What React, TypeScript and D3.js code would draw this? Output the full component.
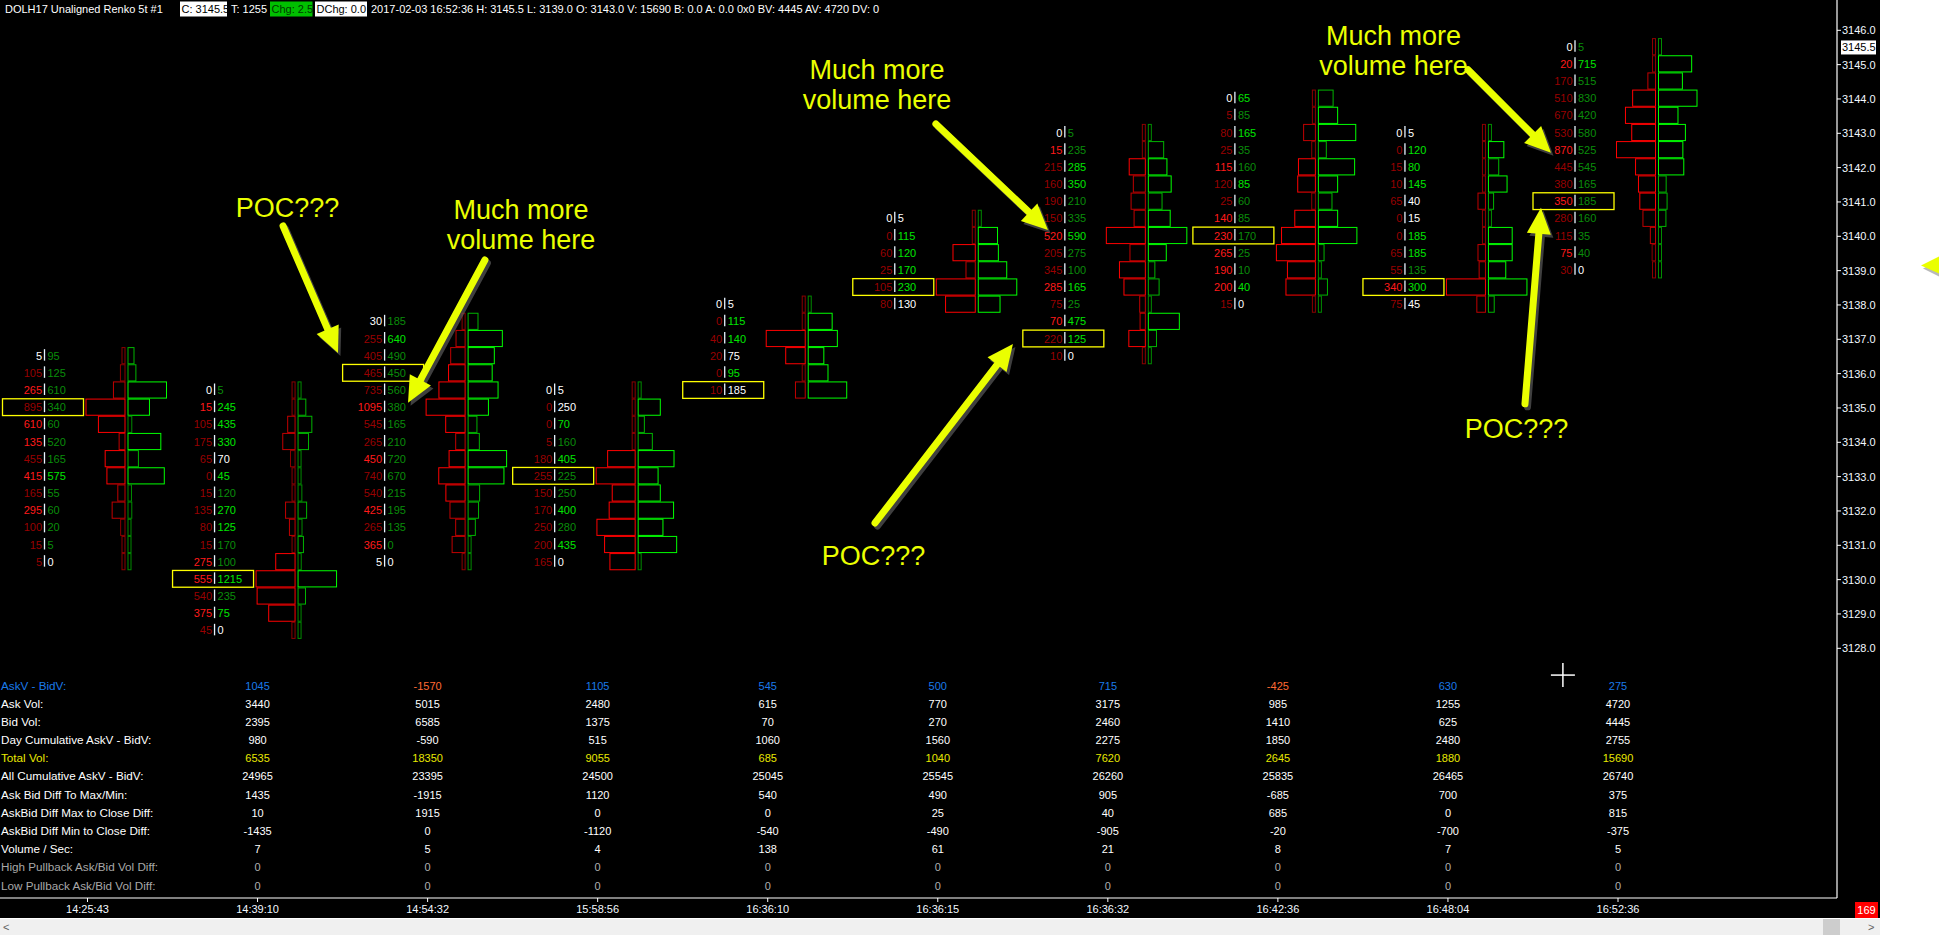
import React, { useEffect } from "react";
import * as d3 from "d3";

// ---------- DATA ----------
const timeLabels = ["14:25:43", "14:39:10", "14:54:32", "15:58:56", "16:36:10", "16:36:15", "16:36:32", "16:42:36", "16:48:04", "16:52:36"];

const barTopPrices = [3136.5, 3135.5, 3137.5, 3135.5, 3138.0, 3140.5, 3143.0, 3144.0, 3143.0, 3145.5];

const bidVolumes = [
  [5, 105, 265, 895, 610, 135, 455, 415, 165, 295, 100, 15, 5],
  [0, 15, 105, 175, 65, 0, 15, 135, 80, 15, 275, 555, 540, 375, 45],
  [30, 255, 405, 465, 735, 1095, 545, 265, 450, 740, 540, 425, 265, 365, 5],
  [0, 0, 0, 5, 180, 255, 150, 170, 250, 200, 165],
  [0, 0, 40, 20, 0, 10],
  [0, 0, 60, 25, 105, 80],
  [0, 15, 215, 160, 190, 150, 520, 205, 345, 285, 75, 70, 220, 10],
  [0, 5, 80, 25, 115, 120, 25, 140, 230, 265, 190, 200, 15],
  [0, 0, 15, 10, 65, 0, 0, 65, 55, 340, 75],
  [0, 20, 170, 510, 670, 530, 870, 445, 380, 350, 280, 115, 75, 30],
];

const askVolumes = [
  [95, 125, 610, 340, 60, 520, 165, 575, 55, 60, 20, 5, 0],
  [5, 245, 435, 330, 70, 45, 120, 270, 125, 170, 100, 1215, 235, 75, 0],
  [185, 640, 490, 450, 560, 380, 165, 210, 720, 670, 215, 195, 135, 0, 0],
  [5, 250, 70, 160, 405, 225, 250, 400, 280, 435, 0],
  [5, 115, 140, 75, 95, 185],
  [5, 115, 120, 170, 230, 130],
  [5, 235, 285, 350, 210, 335, 590, 275, 100, 165, 25, 475, 125, 0],
  [65, 85, 165, 35, 160, 85, 60, 85, 170, 25, 10, 40, 0],
  [5, 120, 80, 145, 40, 15, 185, 185, 135, 300, 45],
  [5, 715, 515, 830, 420, 580, 525, 545, 165, 185, 160, 35, 40, 0],
];

const bidTones = [
  "WrRrRRrRrRrrr",
  "WRrrrrrrrrRRrRr",
  "WrrrrRrrRrrRrRW",
  "Wrrrrrrrrrr",
  "Wrrrrr",
  "Wrrrrr",
  "WRrrrrRrrRrRrr",
  "WrrrRrrRRRRRr",
  "WrrrrrrrrRr",
  "WRrrrrRrrRrrRr",
];

const askTones = [
  "gggggggGggggW",
  "gGGGWGgGGggGgGW",
  "gGggggggggggggW",
  "WWGgGggGgGW",
  "WGGWGW",
  "WGGGGW",
  "ggGGggGggGgGGW",
  "GgGggGgggggGW",
  "WGGGWWGGgGW",
  "gGgggggggggggW",
];

const pocRows = [3, 11, 3, 5, 5, 4, 12, 8, 9, 9];

const priceTicks = d3.range(3128, 3147, 1);
const lastPrice = 3145.5;

const tableRowLabels = [
  "AskV - BidV:",
  "Ask Vol:",
  "Bid Vol:",
  "Day Cumulative AskV - BidV:",
  "Total Vol:",
  "All Cumulative AskV - BidV:",
  "Ask Bid Diff To Max/Min:",
  "AskBid Diff Max to Close Diff:",
  "AskBid Diff Min to Close Diff:",
  "Volume / Sec:",
  "High Pullback Ask/Bid Vol Diff:",
  "Low Pullback Ask/Bid Vol Diff:",
];
const askMinusBidV = [1045, -1570, 1105, 545, 500, 715, -425, 630, 275];
const askVolRow = [3440, 5015, 2480, 615, 770, 3175, 985, 1255, 4720];
const bidVolRow = [2395, 6585, 1375, 70, 270, 2460, 1410, 625, 4445];
const dayCumRow = [980, -590, 515, 1060, 1560, 2275, 1850, 2480, 2755];
const totalVolRow = [6535, 18350, 9055, 685, 1040, 7620, 2645, 1880, 15690];
const allCumRow = [24965, 23395, 24500, 25045, 25545, 26260, 25835, 26465, 26740];
const diffMaxMinRow = [1435, -1915, 1120, 540, 490, 905, -685, 700, 375];
const maxToCloseRow = [10, 1915, 0, 0, 25, 40, 685, 0, 815];
const minToCloseRow = [-1435, 0, -1120, -540, -490, -905, -20, -700, -375];
const volPerSecRow = [7, 5, 4, 138, 61, 21, 8, 7, 5];
const highPullbackRow = [0, 0, 0, 0, 0, 0, 0, 0, 0];
const lowPullbackRow = [0, 0, 0, 0, 0, 0, 0, 0, 0];

// annotations, anchored in data space (bar index, price)
const noteTexts = [
  { lines: ["POC???"], at: [1.176, 3140.83] },
  { lines: ["Much more", "volume here"], at: [2.549, 3140.77] },
  { lines: ["Much more", "volume here"], at: [4.643, 3144.87] },
  { lines: ["Much more", "volume here"], at: [7.68, 3145.86] },
  { lines: ["POC???"], at: [4.622, 3130.69] },
  { lines: ["POC???"], at: [8.403, 3134.39] },
];
const noteArrows = [
  { from: [1.15, 3140.3], to: [1.473, 3136.6] },
  { from: [2.337, 3139.31], to: [1.885, 3135.15] },
  { from: [4.989, 3143.27], to: [5.648, 3140.18] },
  { from: [4.631, 3131.65], to: [5.442, 3136.86] },
  { from: [8.118, 3144.85], to: [8.606, 3142.43] },
  { from: [8.453, 3135.12], to: [8.547, 3140.83] },
];

// ---------- STYLE ----------
const FONT = "'Liberation Sans', Arial, sans-serif";
const YEL = "#eaff00";
const toneColor: Record<string, string> = {
  W: "#ffffff",
  R: "#ff1a1a",
  r: "#990000",
  G: "#00e400",
  g: "#0a8c0a",
};

function Arrow({ x1, y1, x2, y2 }: { x1: number; y1: number; x2: number; y2: number }) {
  const dx = x2 - x1, dy = y2 - y1;
  const len = Math.hypot(dx, dy);
  const ux = dx / len, uy = dy / len;
  const headLen = 26, headW = 12;
  const bx = x2 - ux * headLen, by = y2 - uy * headLen;
  const px = -uy, py = ux;
  const head = `${x2},${y2} ${bx + px * headW},${by + py * headW} ${bx - px * headW},${by - py * headW}`;
  const shaft = (
    <line x1={x1} y1={y1} x2={bx + ux * 3} y2={by + uy * 3} strokeWidth={7} strokeLinecap="round" />
  );
  return (
    <g>
      <g transform="translate(2.5,3)" opacity={0.6}>
        <line x1={x1} y1={y1} x2={bx + ux * 3} y2={by + uy * 3} stroke="#6a6a6a" strokeWidth={7} strokeLinecap="round" />
        <polygon points={head} fill="#6a6a6a" />
      </g>
      <line x1={x1} y1={y1} x2={bx + ux * 3} y2={by + uy * 3} stroke={YEL} strokeWidth={7} strokeLinecap="round" />
      <polygon points={head} fill={YEL} />
    </g>
  );
}

export default function App() {
  useEffect(() => {
    document.body.style.margin = "0";
    document.body.style.overflow = "hidden";
  }, []);

  const W = 1939, H = 935;
  const plotRight = 1880;
  const axisX = 1837;
  const bottomLine = 898;

  const x = d3.scaleLinear().domain([0, 9]).range([87.5, 1618]);
  const y = d3.scaleLinear().domain([3128, 3146]).range([648.3, 30.3]);
  const tableY = d3.scaleLinear().domain([0, 11]).range([685.5, 885.5]);
  const rowStep = Math.abs(y(0.5) - y(0));

  const tableRows = [
    askMinusBidV, askVolRow, bidVolRow, dayCumRow, totalVolRow, allCumRow,
    diffMaxMinRow, maxToCloseRow, minToCloseRow, volPerSecRow, highPullbackRow, lowPullbackRow,
  ];
  const labelColor = (r: number) =>
    r === 0 ? "#1a7ae8" : r === 4 ? "#e8e800" : r >= 10 ? "#a8a8a8" : "#ffffff";
  const valueColor = (r: number, v: number) =>
    r === 0 ? (v >= 0 ? "#1a7ae8" : "#ff6a33") : r === 4 ? "#e8e800" : r >= 10 ? "#b0b0b0" : "#ffffff";

  const bars = bidVolumes.map((bids, i) => {
    const asks = askVolumes[i];
    const c = x(i);
    const maxB = d3.max(bids) || 1;
    const maxA = d3.max(asks) || 1;
    const mid = c + 39;
    return (
      <g key={"bar" + i}>
        {bids.map((b, j) => {
          const p = barTopPrices[i] - 0.5 * j;
          const yc = y(p) - 0.8;
          const a = asks[j];
          const wb = Math.max(3, (b / maxB) * 39);
          const wa = Math.max(3, (a / maxA) * 38.5);
          const rb = b / maxB, ra = a / maxA;
          const redCol = rb >= 0.4 ? "#ff0000" : rb >= 0.12 ? "#c00000" : "#8c0000";
          const greenCol = ra >= 0.4 ? "#00ff00" : ra >= 0.12 ? "#00b400" : "#008c00";
          const top = yc - rowStep / 2 + 0.5;
          const h = rowStep - 1;
          return (
            <g key={j}>
              <rect x={mid - 1.5 - wb} y={top} width={wb} height={h} fill="#000" stroke={redCol} strokeWidth={1} />
              <rect x={mid + 1.5} y={top} width={wa} height={h} fill="#000" stroke={greenCol} strokeWidth={1} />
              <text x={c - 45.5} y={yc + 4} textAnchor="end" fill={toneColor[bidTones[i][j]]} fontSize={11} fontFamily={FONT}>
                {b}
              </text>
              <line x1={c - 43} x2={c - 43} y1={yc - 6.5} y2={yc + 5} stroke="#e8f4ff" strokeWidth={1.3} />
              <text x={c - 40} y={yc + 4} textAnchor="start" fill={toneColor[askTones[i][j]]} fontSize={11} fontFamily={FONT}>
                {a}
              </text>
            </g>
          );
        })}
        {(() => {
          const yc = y(barTopPrices[i] - 0.5 * pocRows[i]) - 0.8;
          return (
            <rect x={c - 85} y={yc - rowStep / 2 + 0.2} width={81} height={rowStep - 0.4} fill="none" stroke="#ffff00" strokeWidth={1.3} />
          );
        })()}
      </g>
    );
  });

  return (
    <svg width={W} height={H} style={{ display: "block", position: "absolute", left: 0, top: 0 }}>
      <rect x={0} y={0} width={W} height={H} fill="#ffffff" />
      <rect x={0} y={0} width={plotRight} height={918} fill="#000000" />

      {/* header */}
      <g fontFamily={FONT} fontSize={11} style={{ whiteSpace: "pre" }}>
        <text x={5} y={12.5} fill="#fff">{"DOLH17  Unaligned Renko 5t  #1"}</text>
        <rect x={180} y={1.5} width={47} height={15} fill="#fff" />
        <text x={181.5} y={12.5} fill="#000">{"C: 3145.5"}</text>
        <text x={231} y={12.5} fill="#fff">{"T: 1255"}</text>
        <rect x={270} y={1.5} width={42.5} height={15} fill="#00c000" />
        <text x={271.5} y={12.5} fill="#003a00">{"Chg: 2.5"}</text>
        <rect x={315} y={1.5} width={52} height={15} fill="#fff" />
        <text x={316.5} y={12.5} fill="#000">{"DChg: 0.0"}</text>
        <text x={371} y={12.5} fill="#fff">
          {"2017-02-03 16:52:36 H: 3145.5 L: 3139.0 O: 3143.0 V: 15690 B: 0.0 A: 0.0 0x0 BV: 4445 AV: 4720 DV: 0"}
        </text>
      </g>

      {/* footprint bars */}
      {bars}

      {/* y axis */}
      <line x1={axisX} x2={axisX} y1={0} y2={bottomLine} stroke="#fff" strokeWidth={1.2} />
      {priceTicks.map((p) => (
        <g key={p}>
          <line x1={axisX} x2={axisX + 4} y1={y(p)} y2={y(p)} stroke="#fff" />
          <text x={1842} y={y(p) + 4} fill="#f2f8ff" fontSize={11} fontFamily={FONT}>
            {p.toFixed(1)}
          </text>
        </g>
      ))}
      <rect x={1841} y={y(lastPrice) - 7} width={35} height={14} fill="#fff" />
      <text x={1842} y={y(lastPrice) + 4} fill="#000" fontSize={11} fontFamily={FONT}>
        {lastPrice.toFixed(1)}
      </text>

      {/* table */}
      {tableRowLabels.map((lab, r) => (
        <text key={"lab" + r} x={1} y={tableY(r) + 4} fill={labelColor(r)} fontSize={11.7} fontFamily={FONT}>
          {lab}
        </text>
      ))}
      {tableRows.map((row, r) =>
        row.map((v, k) => (
          <text key={`tv${r}-${k}`} x={x(k + 1)} y={tableY(r) + 4} textAnchor="middle" fill={valueColor(r, v)} fontSize={11} fontFamily={FONT}>
            {v}
          </text>
        ))
      )}

      {/* bottom border + time axis */}
      <line x1={0} x2={axisX} y1={bottomLine} y2={bottomLine} stroke="#fff" strokeWidth={1.2} />
      {timeLabels.map((t, i) => (
        <g key={t + i}>
          <line x1={x(i)} x2={x(i)} y1={bottomLine} y2={bottomLine + 4} stroke="#fff" />
          <text x={x(i)} y={913} textAnchor="middle" fill="#f2f8ff" fontSize={11} fontFamily={FONT}>
            {t}
          </text>
        </g>
      ))}
      <rect x={1855} y={902} width={23} height={16} fill="#ff0000" />
      <text x={1866.5} y={914} textAnchor="middle" fill="#fff" fontSize={11} fontFamily={FONT}>169</text>

      {/* scrollbar */}
      <rect x={0} y={919} width={plotRight} height={16} fill="#f0f0f0" />
      <rect x={1823} y={919} width={17} height={16} fill="#cdcdcd" />
      <text x={3} y={931} fill="#606060" fontSize={11} fontFamily={FONT}>{"<"}</text>
      <text x={1868} y={931} fill="#606060" fontSize={11} fontFamily={FONT}>{">"}</text>

      {/* crosshair */}
      {(() => {
        const cx = x(8.676), cy = y(3127.22);
        return (
          <g stroke="#fff" strokeWidth={1.5}>
            <line x1={cx - 12} x2={cx + 12} y1={cy} y2={cy} />
            <line x1={cx} x2={cx} y1={cy - 12} y2={cy + 12} />
          </g>
        );
      })()}

      {/* annotations */}
      {noteArrows.map((a, i) => (
        <Arrow key={"ar" + i} x1={x(a.from[0])} y1={y(a.from[1])} x2={x(a.to[0])} y2={y(a.to[1])} />
      ))}
      {noteTexts.map((n, i) => (
        <text key={"nt" + i} x={x(n.at[0])} y={y(n.at[1]) + 9.5} textAnchor="middle" fill={YEL} fontSize={27} fontFamily={FONT}>
          {n.lines.map((l, k) => (
            <tspan key={k} x={x(n.at[0])} dy={k === 0 ? 0 : 30}>
              {l}
            </tspan>
          ))}
        </text>
      ))}
      {/* edge marker */}
      {(() => {
        const ty = y(3139.15);
        return (
          <g>
            <polygon points={`1923,${ty + 3} 1941,${ty - 6} 1941,${ty + 12}`} fill="#8a8a8a" opacity={0.6} />
            <polygon points={`1921,${ty} 1939,${ty - 9} 1939,${ty + 8}`} fill={YEL} />
          </g>
        );
      })()}
    </svg>
  );
}
